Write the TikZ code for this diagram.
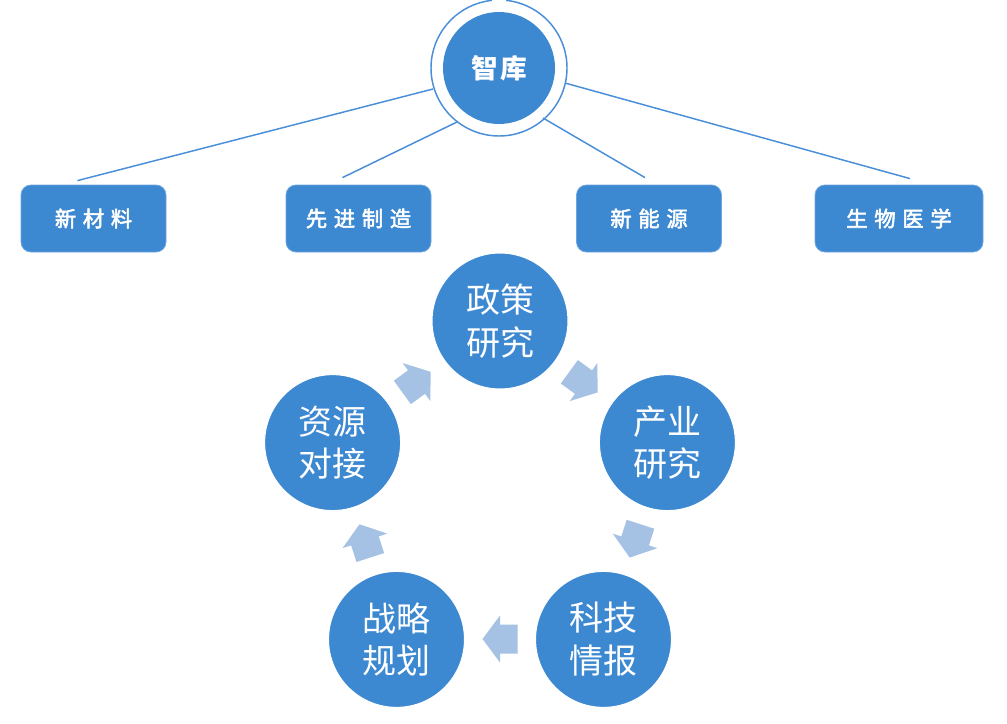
\documentclass[tikz,border=0pt]{standalone}
\usepackage{fontspec}
\newfontfamily\cjk{Noto Sans CJK SC}
\newfontfamily\cjkmed[FakeBold=2.5]{Noto Sans CJK SC}
\usetikzlibrary{calc}
\definecolor{mainblue}{RGB}{60,136,209}
\definecolor{edgeblue}{RGB}{110,165,224}
\definecolor{lineblue}{RGB}{72,142,216}
\definecolor{arrowblue}{RGB}{165,194,229}
\tikzset{
  catbox/.style={rectangle, rounded corners=7.5pt, fill=mainblue, draw=edgeblue, line width=0.6pt,
    minimum height=50.25pt, text=white, font=\cjkmed\fontsize{16}{18}\selectfont},
  cycnode/.style={circle, fill=mainblue, draw=white, line width=0.8pt, minimum size=102pt, inner sep=0pt,
    text=white, align=center, font=\cjk\fontsize{25.5}{32}\selectfont},
  topnode/.style={circle, fill=mainblue, minimum size=84pt, inner sep=0pt, text=white,
    font=\cjk\bfseries\fontsize{20}{24}\selectfont},
  conn/.style={draw=lineblue, line width=1.1pt},
  cycarrow/.pic={\fill[arrowblue] (17.5,0) -- (0,23.5) -- (0,14.5) -- (-17.5,14.5) -- (-17.5,-14.5) -- (0,-14.5) -- (0,-23.5) -- cycle;}
}
\newcommand{\spc}{\hspace{5pt}}
\begin{document}
\begin{tikzpicture}[x=0.75pt, y=-0.75pt]
\useasboundingbox (0,0) rectangle (1007,724);
% top node and ring
\node[topnode] (zk) at (499,68) {智\hspace{2pt}库};
\draw[conn] ($(zk.center)+(-84:68)$) arc[start angle=-84, end angle=264, radius=68];
% ring attach points
\coordinate (a1) at ($(zk.center)+(-66,21)$);
\coordinate (a2) at ($(zk.center)+(-42,54)$);
\coordinate (a3) at ($(zk.center)+(44,50)$);
\coordinate (a4) at ($(zk.center)+(66,15)$);
% category boxes
\node[catbox, minimum width=108.75pt] (b1) at (93.5,218.5) {新\spc 材\spc 料};
\node[catbox, minimum width=108.75pt] (b2) at (358.5,218.5) {先\spc 进\spc 制\spc 造};
\node[catbox, minimum width=108.75pt] (b3) at (649,218.5) {新\spc 能\spc 源};
\node[catbox, minimum width=126pt] (b4) at (899,218.5) {生\spc 物\spc 医\spc 学};
\coordinate (e1) at ($(b1.north)+(-16,-4)$);
\coordinate (e2) at ($(b2.north)+(-16,-7)$);
\coordinate (e3) at ($(b3.north)+(-4,-7)$);
\coordinate (e4) at ($(b4.north)+(11,-6)$);
\draw[conn] (a1) -- (e1);
\draw[conn] (a2) -- (e2);
\draw[conn] (a3) -- (e3);
\draw[conn] (a4) -- (e4);
% cycle nodes
\node[cycnode] (c1) at (500,321) {政策\\研究};
\node[cycnode] (c2) at (667.4,442.6) {产业\\研究};
\node[cycnode] (c3) at (603.5,639.4) {科技\\情报};
\node[cycnode] (c4) at (396.5,639.4) {战略\\规划};
\node[cycnode] (c5) at (332.6,442.6) {资源\\对接};
% cycle arrows
\pic[rotate=-36] at (583.5,382.1) {cycarrow};
\pic[rotate=-108] at (635.1,540.9) {cycarrow};
\pic[rotate=180] at (500,639) {cycarrow};
\pic[rotate=108] at (364.9,540.9) {cycarrow};
\pic[rotate=36] at (416.5,382.1) {cycarrow};
\end{tikzpicture}
\end{document}
